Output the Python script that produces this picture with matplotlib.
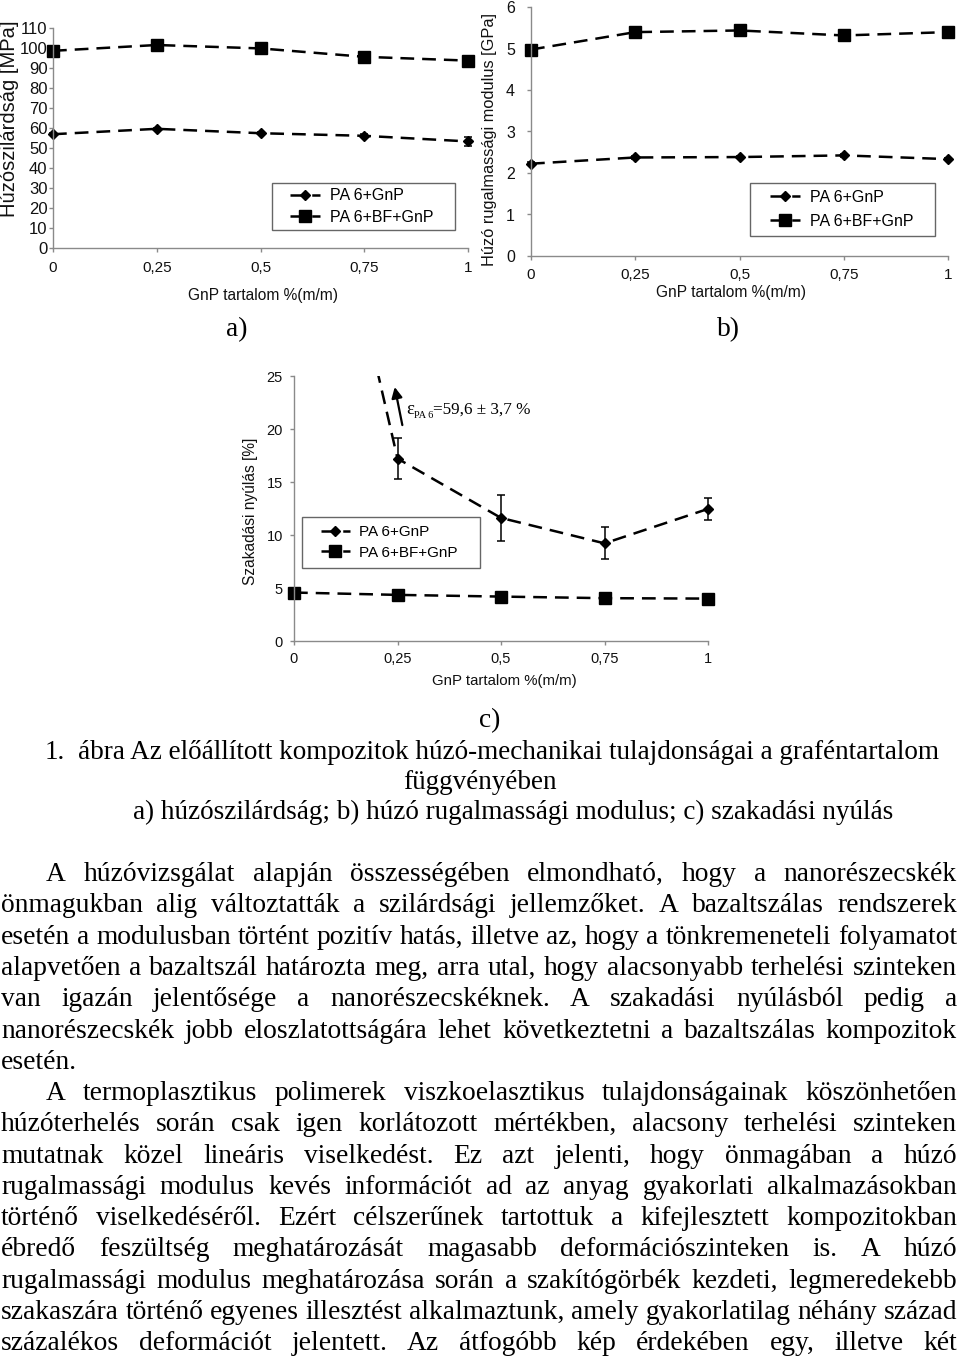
import numpy as np
import matplotlib
matplotlib.use('Agg')
import matplotlib.pyplot as plt
from matplotlib.patches import Rectangle
from matplotlib.transforms import Bbox, TransformedBbox

plt.rcParams['font.family'] = ['Liberation Sans', 'DejaVu Sans']

# GnP content, common x axis
gnp = [0, 0.25, 0.5, 0.75, 1]
xtick_labels = ['0', '0,25', '0,5', '0,75', '1']
labels = ['PA 6+GnP', 'PA 6+BF+GnP']

# a) tensile strength [MPa]
a_gnp = [56.8, 59.5, 57.3, 56.0, 53.2]
a_gnp_err = [0.6, 0.6, 0.6, 0.8, 2.2]
a_bf = [98.5, 101.4, 99.7, 95.5, 93.6]
a_bf_err = [0.8, 0.8, 0.8, 1.0, 0.8]

# b) tensile modulus [GPa]
b_gnp = [2.22, 2.37, 2.38, 2.42, 2.33]
b_gnp_err = [0.03, 0.03, 0.03, 0.03, 0.03]
b_bf = [4.97, 5.39, 5.43, 5.31, 5.39]
b_bf_err = [0.03, 0.03, 0.03, 0.14, 0.03]

# c) elongation at break [%]  (PA 6 alone = 59.6 +- 3.7, off the scale)
c_gnp = [59.6, 17.2, 11.6, 9.2, 12.45]
c_gnp_err = [3.7, 1.9, 2.2, 1.5, 1.0]
c_bf = [4.56, 4.34, 4.18, 4.03, 3.99]
c_bf_err = [0.08, 0.08, 0.08, 0.08, 0.08]

caption = [
    "ábra Az előállított kompozitok húzó-mechanikai tulajdonságai a graféntartalom",
    "függvényében",
    "a) húzószilárdság; b) húzó rugalmassági modulus; c) szakadási nyúlás",
]

body = [
    "A húzóvizsgálat alapján összességében elmondható, hogy a nanorészecskék",
    "önmagukban alig változtatták a szilárdsági jellemzőket. A bazaltszálas rendszerek",
    "esetén a modulusban történt pozitív hatás, illetve az, hogy a tönkremeneteli folyamatot",
    "alapvetően a bazaltszál határozta meg, arra utal, hogy alacsonyabb terhelési szinteken",
    "van igazán jelentősége a nanorészecskéknek. A szakadási nyúlásból pedig a",
    "nanorészecskék jobb eloszlatottságára lehet következtetni a bazaltszálas kompozitok",
    "esetén.",
    "A termoplasztikus polimerek viszkoelasztikus tulajdonságainak köszönhetően",
    "húzóterhelés során csak igen korlátozott mértékben, alacsony terhelési szinteken",
    "mutatnak közel lineáris viselkedést. Ez azt jelenti, hogy önmagában a húzó",
    "rugalmassági modulus kevés információt ad az anyag gyakorlati alkalmazásokban",
    "történő viselkedéséről. Ezért célszerűnek tartottuk a kifejlesztett kompozitokban",
    "ébredő feszültség meghatározását magasabb deformációszinteken is. A húzó",
    "rugalmassági modulus meghatározása során a szakítógörbék kezdeti, legmeredekebb",
    "szakaszára történő egyenes illesztést alkalmaztunk, amely gyakorlatilag néhány század",
    "százalékos deformációt jelentett. Az átfogóbb kép érdekében egy, illetve két",
]
indented = [0, 7]
not_justified = [6]

W, H = 960, 1361
fig = plt.figure(figsize=(9.6, 13.612), dpi=100, facecolor='white')

page = fig.add_axes([0, 0, 1, 1])
page.set_xlim(0, W)
page.set_ylim(H, 0)
page.axis('off')
renderer = fig.canvas.get_renderer()

SERIF = 'Liberation Serif'
FS = 19.8
CAP_FS = 19.5


def word_width(w, fs):
    t = page.text(0, 0, w, fontsize=fs, family=SERIF)
    wd = t.get_window_extent(renderer).width
    t.remove()
    return wd


def put(x, y, s, fs=FS, **kw):
    return page.text(x, y, s, fontsize=fs, family=SERIF, va='baseline', ha='left', **kw)


def text_line(line, y, x0, x1=None, fs=FS):
    if x1 is None:
        put(x0, y, line, fs)
        return
    words = line.split()
    widths = [word_width(w, fs) for w in words]
    gap = (x1 - x0 - sum(widths)) / (len(words) - 1)
    x = x0
    for w, wd in zip(words, widths):
        put(x, y, w, fs)
        x += wd + gap


def frac(x0, y0, x1, y1):
    return [x0 / W, 1 - y1 / H, (x1 - x0) / W, (y1 - y0) / H]


def style_axes(ax, ymax, ystep, ypad, xpad, xsize, ysize):
    ax.set_xlim(0, 1)
    ax.set_ylim(0, ymax)
    ax.set_xticks(gnp)
    ax.set_xticklabels(xtick_labels)
    ax.set_yticks(np.arange(0, ymax + 0.001, ystep))
    ax.set_yticklabels([str(int(v)) for v in np.arange(0, ymax + 0.001, ystep)])
    for s in ['top', 'right']:
        ax.spines[s].set_visible(False)
    for s in ['left', 'bottom']:
        ax.spines[s].set_color('#8a8a8a')
        ax.spines[s].set_linewidth(1.0)
    ax.tick_params(direction='out', length=3, width=1, color='#8a8a8a',
                   labelcolor='#111111')
    ax.tick_params(axis='y', pad=ypad, labelsize=ysize)
    ax.tick_params(axis='x', pad=xpad, labelsize=xsize)
    ax.set_facecolor('none')


def draw_series(ax, y, err, marker, ms, label, clip=None):
    line, = ax.plot(gnp, y, color='black', lw=1.8, dashes=(5.5, 3.2), marker=marker,
                    ms=ms, mfc='black', mec='black', label=label)
    eb = ax.errorbar(gnp, y, yerr=err, fmt='none', ecolor='black',
                     elinewidth=1.1, capsize=3, capthick=1.1)
    arts = [line] + list(eb.lines[1]) + list(eb.lines[2])
    for art in arts:
        if clip is None:
            art.set_clip_on(False)
        else:
            art.set_clip_box(clip)


def legend_box(ax, box, hx, yc, fs, spacing):
    x0, y0, x1, y1 = box
    ax.add_patch(Rectangle((x0, y0), x1 - x0, y1 - y0, transform=ax.transAxes,
                           facecolor='white', edgecolor='#666666', lw=1.0,
                           clip_on=False, zorder=4))
    leg = ax.legend(loc='center left', bbox_to_anchor=(hx, yc), frameon=False,
                    fontsize=fs, handlelength=1.9, handletextpad=0.6,
                    borderaxespad=0, borderpad=0, labelspacing=spacing)
    leg.set_zorder(5)


# ---------- a) ----------
ax_a = fig.add_axes(frac(53, 28, 468, 248))
style_axes(ax_a, 110, 10, 1, 6.5, 11, 12)
draw_series(ax_a, a_gnp, a_gnp_err, 'D', 5, labels[0])
draw_series(ax_a, a_bf, a_bf_err, 's', 8, labels[1])
ax_a.set_xlabel('GnP tartalom %(m/m)', fontsize=11.2, color='#111111')
ax_a.xaxis.set_label_coords(0.506, -0.214)
ax_a.xaxis.label.set_va('center')
ax_a.set_ylabel('Húzószilárdság [MPa]', fontsize=14.5, color='#111111')
ax_a.yaxis.set_label_coords(-0.104, 0.586)
ax_a.yaxis.label.set_va('center')
legend_box(ax_a, (0.528, 0.082, 0.969, 0.295), 0.571, 0.188, 11.5, 0.4)

# ---------- b) ----------
ax_b = fig.add_axes(frac(531, 7, 948, 256))
style_axes(ax_b, 6, 1, 8.5, 5.8, 11, 11.5)
draw_series(ax_b, b_gnp, b_gnp_err, 'D', 5, labels[0])
draw_series(ax_b, b_bf, b_bf_err, 's', 8, labels[1])
ax_b.set_xlabel('GnP tartalom %(m/m)', fontsize=11.2, color='#111111')
ax_b.xaxis.set_label_coords(0.48, -0.145)
ax_b.xaxis.label.set_va('center')
ax_b.set_ylabel('Húzó rugalmassági modulus [GPa]', fontsize=11.8, color='#111111')
ax_b.yaxis.set_label_coords(-0.10, 0.466)
ax_b.yaxis.label.set_va('center')
legend_box(ax_b, (0.525, 0.08, 0.969, 0.293), 0.573, 0.187, 11.5, 0.55)

# ---------- c) ----------
ax_c = fig.add_axes(frac(294, 376, 708, 641))
style_axes(ax_c, 25, 5, 5, 5, 10.5, 10.5)
clip_c = TransformedBbox(Bbox([[-0.1, -0.1], [1.1, 1.0]]), ax_c.transAxes)
draw_series(ax_c, c_gnp, c_gnp_err, 'D', 5, labels[0], clip=clip_c)
draw_series(ax_c, c_bf, c_bf_err, 's', 8, labels[1], clip=clip_c)
ax_c.set_xlabel('GnP tartalom %(m/m)', fontsize=10.8, color='#111111')
ax_c.xaxis.set_label_coords(0.507, -0.151)
ax_c.xaxis.label.set_va('center')
ax_c.set_ylabel('Szakadási nyúlás [%]', fontsize=11.2, color='#111111')
ax_c.yaxis.set_label_coords(-0.106, 0.49)
ax_c.yaxis.label.set_va('center')
legend_box(ax_c, (0.019, 0.275, 0.449, 0.468), 0.065, 0.372, 11, 0.45)
ax_c.annotate('', xy=(0.242, 24.2), xytext=(0.263, 20.1),
              arrowprops=dict(arrowstyle='-|>', color='black', lw=1.6,
                              mutation_scale=16), annotation_clip=False)

# epsilon note: eps, subscript, value
x = 406
t = put(x, 414, 'ε', 13.5)
x += t.get_window_extent(renderer).width
t = put(x, 418, 'PA 6', 7.5)
x += t.get_window_extent(renderer).width
put(x, 414, '=59,6 ± 3,7 %', 12.3)

# ---------- panel letters, caption, body ----------
page.text(237, 336, 'a)', fontsize=FS, family=SERIF, ha='center', va='baseline')
page.text(728, 336, 'b)', fontsize=FS, family=SERIF, ha='center', va='baseline')
page.text(490, 727, 'c)', fontsize=FS, family=SERIF, ha='center', va='baseline')

put(45, 759, '1.', CAP_FS)
put(78, 759, caption[0], CAP_FS)
page.text(480, 789, caption[1], fontsize=CAP_FS, family=SERIF, ha='center', va='baseline')
put(133, 819, caption[2], CAP_FS)

for i, line in enumerate(body):
    y = 881 + i * 31.27
    x0 = 46 if i in indented else 1
    if i in not_justified:
        text_line(line, y, x0)
    else:
        text_line(line, y, x0, 957)

fig.savefig('out.png', dpi=100, facecolor='white')
